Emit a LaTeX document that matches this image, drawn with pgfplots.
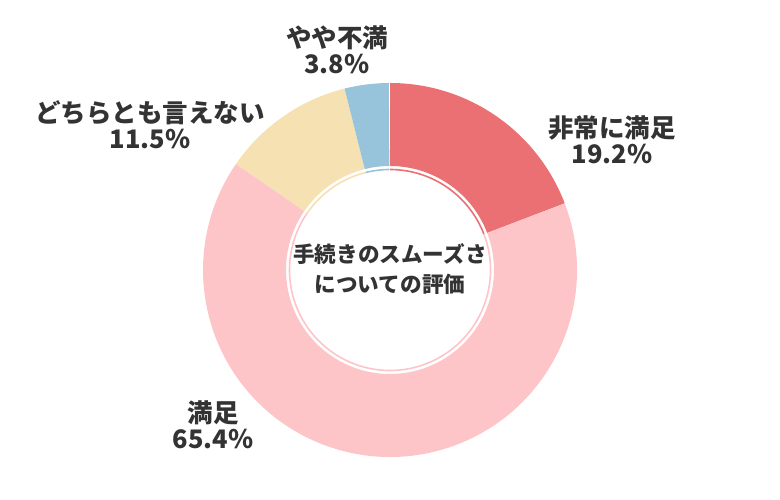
\documentclass[border=0pt]{standalone}
\usepackage{pgfplots}
\pgfplotsset{compat=1.18}
\usepackage{pgfplotstable}
\usepackage{fontspec}
\setmainfont{Noto Sans CJK JP}

\definecolor{cRed}{HTML}{EB7073}
\definecolor{cPink}{HTML}{FEC5C8}
\definecolor{cBeige}{HTML}{F5E1B1}
\definecolor{cBlue}{HTML}{97C4DB}
\definecolor{txt}{HTML}{333333}

\newcommand\labfont{\bfseries\fontsize{25.5}{26}\selectfont}
\newcommand\midfont{\bfseries\fontsize{21.6}{30}\selectfont}

% share of answers, clockwise from 12 o'clock
\pgfplotstableread{
value color
19.2 cRed
65.4 cPink
11.5 cBeige
3.8 cBlue
}\shares

\begin{document}
\begin{tikzpicture}
\pgfplotstablegetrowsof{\shares}
\pgfmathtruncatemacro\lastrow{\pgfplotsretval-1}
\gdef\cum{0}
\foreach \i in {0,...,\lastrow}{
  \pgfplotstablegetelem{\i}{value}\of\shares
  \pgfmathsetmacro\va{90-3.6*\cum}
  \pgfmathsetmacro\newcum{\cum+\pgfplotsretval}
  \pgfmathsetmacro\vb{90-3.6*\newcum}
  \expandafter\xdef\csname angA\i\endcsname{\va}
  \expandafter\xdef\csname angB\i\endcsname{\vb}
  \pgfplotstablegetelem{\i}{color}\of\shares
  \expandafter\xdef\csname col\i\endcsname{\pgfplotsretval}
  \xdef\cum{\newcum}
}
\begin{axis}[x=1pt, y=1pt, xmin=0, xmax=780, ymin=0, ymax=500,
  hide axis, clip=false]
\path (rel axis cs:0,0) rectangle (rel axis cs:1,1);
\pgfplotsinvokeforeach{0,...,\lastrow}{
  \edef\temp{\noexpand\fill[\csname col#1\endcsname]
    (axis cs:390,230) ++(\csname angA#1\endcsname:187pt)
    arc[start angle=\csname angA#1\endcsname, end angle=\csname angB#1\endcsname, radius=187pt]
    -- ++(\csname angB#1\endcsname:-83pt)
    arc[start angle=\csname angB#1\endcsname, end angle=\csname angA#1\endcsname, radius=104pt]
    -- cycle;
    \noexpand\draw[\csname col#1\endcsname, line width=1.6pt]
    (axis cs:390,230) ++(\csname angA#1\endcsname:100.5pt)
    arc[start angle=\csname angA#1\endcsname, end angle=\csname angB#1\endcsname, radius=100.5pt];}
  \temp
}
\node[font=\labfont, align=center, text=txt] at (axis cs:337,450) {やや不満\\3.8\%};
\node[font=\labfont, align=center, text=txt] at (axis cs:612,360) {非常に満足\\19.2\%};
\node[font=\labfont, align=center, text=txt] at (axis cs:150,375.5) {どちらとも言えない\\11.5\%};
\node[font=\labfont, align=center, text=txt] at (axis cs:213,75.5) {満足\\65.4\%};
\node[font=\midfont, align=center, text=txt] at (axis cs:390,231) {手続きのスムーズさ\\についての評価};
\end{axis}
\end{tikzpicture}
\end{document}
